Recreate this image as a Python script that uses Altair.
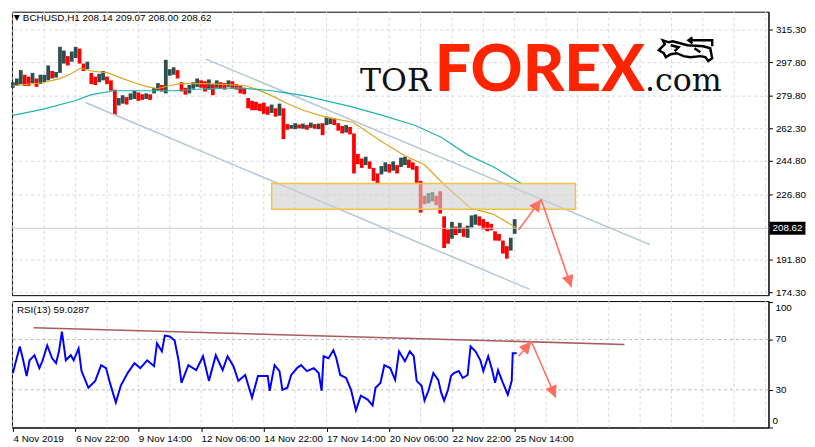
import math
import altair as alt
import pandas as pd

# ---------------- data ----------------
symbol_text = "BCHUSD,H1 208.14 209.07 208.00 208.62"
rsi_text = "RSI(13) 59.0287"
last_price = 208.62

price_ticks = [315.30, 297.80, 279.80, 262.30, 244.80, 226.80, 191.80, 174.30]
rsi_ticks = [0, 30, 70, 100]
rsi_levels = [30, 70]

time_label_hours = [0, 64, 128, 192, 256, 320, 384, 448, 512]
time_labels = ["4 Nov 2019", "6 Nov 22:00", "9 Nov 14:00", "12 Nov 06:00",
               "14 Nov 22:00", "17 Nov 14:00", "20 Nov 06:00", "22 Nov 22:00",
               "25 Nov 14:00"]

# 4-hour bars (hour index 0 = 4 Nov 06:00)
bar_high = [287, 289, 293.5, 291, 290, 292, 289, 291, 291, 296, 293, 292.5,
            306, 304, 301, 303.5, 306, 305, 297, 298, 292, 290, 291.5, 293,
            290, 288, 283, 278.5, 280, 279, 281, 282.5, 281.5, 280.5, 281, 280.5,
            284, 286.5, 285.5, 299, 294, 295, 293.5, 287, 284, 285.5, 287, 289,
            288, 287.5, 288.5, 286, 288, 287, 286.5, 288, 287.5, 286, 285, 284,
            278.5, 277, 276.5, 275.5, 276, 274, 275, 273, 275.5, 273, 264.5, 264,
            265, 264.3, 264.8, 264, 265.3, 264.5, 264.8, 265, 268.5, 268, 267.5, 265,
            263.5, 264, 263, 259.5, 248.5, 246, 247, 244.5, 241, 238, 242, 244,
            243, 244.5, 242.5, 246.5, 247, 245.5, 244, 242, 234, 226, 227.5, 228,
            226, 228.5, 215, 208, 212, 209.5, 211.5, 209, 210, 215.5, 216, 215,
            213.5, 212, 211, 207, 205.5, 202, 199, 203.5, 213.5]
bar_low = [284, 285, 286, 285, 285, 286.5, 284.5, 286, 287, 288, 289, 289.5,
           292, 297, 296, 298, 300, 297, 293, 294, 286, 285.5, 287, 288,
           286, 282.5, 269.5, 274.5, 275.5, 275, 277.5, 278, 277, 277.5, 278, 277.5,
           281, 282.5, 282, 281, 290.5, 291, 289, 282, 280.3, 281, 283.5, 284.5,
           284, 282, 283, 280, 284, 283.5, 283, 284.5, 283.5, 283, 281, 280.5,
           273, 272, 272, 271.5, 270, 269.5, 270.5, 268.5, 269, 256.5, 261.5, 262,
           261.8, 262.2, 262, 261.5, 262.5, 262, 261.8, 258.6, 264, 264.5, 264, 261,
           259.5, 260, 259, 238, 243, 241, 242.5, 240.5, 234, 232.6, 237.5, 239,
           238.5, 239.5, 238, 241.5, 242.5, 241, 240, 233, 217, 221.5, 222, 223,
           221, 216.5, 198, 200.3, 203, 205, 206, 204, 203.5, 209, 210.5, 210,
           208, 207, 207.5, 202, 201.9, 195, 192.3, 196.6, 205.6]

fast_ma_hours = [0, 30, 47, 57, 69, 80, 97, 110, 124, 137, 147, 160, 170, 197,
                 224, 237, 250, 264, 280, 297, 320, 347, 377, 400, 420, 440,
                 467, 490, 514]
fast_ma_vals = [285.1, 286.7, 288.8, 290.9, 294.6, 293.0, 292.0, 289.3, 286.7,
                284.6, 283.5, 285.1, 286.2, 286.2, 285.6, 285.1, 282.9, 279.8,
                275.6, 271.8, 268.1, 265.5, 254.9, 247.5, 242.7, 232.1, 219.4,
                216.2, 208.8]

slow_ma_hours = [0, 30, 64, 80, 104, 164, 197, 230, 264, 277, 297, 310, 344,
                 377, 410, 437, 464, 490, 519]
slow_ma_vals = [269.2, 272.4, 277.2, 280.3, 282.4, 282.4, 283.5, 284.0, 282.4,
                281.4, 279.8, 278.2, 274.0, 269.2, 263.9, 257.5, 248.0, 241.6,
                232.6]

rsi_hours = [0, 2, 7, 10, 14, 17, 22, 27, 30, 35, 40, 44, 47, 50, 54, 59, 62,
             67, 70, 77, 84, 90, 95, 99, 105, 110, 117, 124, 130, 137, 144, 147,
             152, 155, 160, 165, 169, 172, 179, 187, 194, 200, 207, 214, 219,
             225, 230, 237, 244, 250, 260, 262, 267, 272, 275, 280, 284, 290,
             294, 300, 307, 312, 315, 317, 322, 327, 330, 334, 340, 345, 350,
             355, 362, 367, 370, 375, 379, 385, 390, 394, 400, 405, 409, 412,
             417, 420, 424, 429, 434, 437, 440, 444, 447, 450, 455, 459, 464,
             467, 472, 477, 480, 485, 489, 492, 495, 500, 505, 509, 510, 514]
rsi_vals = [43.3, 49.6, 64.5, 55.1, 41, 53.5, 57.5, 47.3, 52.7, 65.3, 55.1,
            51.2, 60.6, 76.3, 53.5, 57.5, 53.5, 62.9, 44.9, 31.6, 37.1, 49.6,
            47.3, 35.5, 19.8, 33.2, 43.3, 51.2, 47.3, 53.5, 48.8, 66.9, 60.6,
            73.1, 72.4, 69.2, 53.5, 35.5, 49.6, 45.7, 56.7, 37.1, 57.5, 45.7,
            56.7, 48.8, 37.1, 41.8, 23.7, 41, 41, 29.2, 49.6, 44.9, 30, 31.6,
            41.8, 47.3, 49.6, 44.9, 47.3, 43.3, 29.2, 56.7, 55.1, 61.4, 55.1,
            41.8, 39.4, 30, 13.6, 25.3, 22.2, 17.5, 31.6, 35.5, 49.6, 47.3, 37.9,
            60.6, 52.7, 60.6, 56.7, 37.1, 33.2, 21.4, 29.2, 43.3, 37.9, 27.7,
            21.4, 30, 41, 43.3, 44.9, 39.4, 41.8, 64.5, 60.6, 53.5, 44.9, 56.7,
            45.7, 35.5, 45.7, 35.5, 26.1, 37.1, 59, 59]

# drawn objects (hour, value)
channel_upper = [(197, 299.4), (650, 199.8)]
channel_lower = [(74, 276.1), (527, 175.9)]
zone_hours = (264, 574)
zone_prices = (218.8, 232.6)
price_arrow_pts = [(516, 207.7), (539, 224.1), (570, 176.9)]
rsi_arrow_pts = [(516, 56.7), (529, 68.4), (554, 23.7)]
rsi_trend = [(21, 79.4), (624, 66.1)]

# ---------------- layout ----------------
W = 766
H1 = 287
H2 = 128
XDOM = [-1, 771]
PDOM = [172.7, 324.84]
RDOM = [0, 100.6]
FONT = "Liberation Sans"
GRID = "#d9d9d9"

xs = alt.Scale(domain=XDOM, nice=False, zero=False)
ps = alt.Scale(domain=PDOM, nice=False, zero=False)
rs = alt.Scale(domain=RDOM, nice=False, zero=False)
grid_hours = list(range(0, 771, 32))

label_expr = " : ".join(f"datum.value == {h} ? '{t}'" for h, t in zip(time_label_hours, time_labels)) + " : ''"


def vgrid():
    return alt.Chart(pd.DataFrame({"h": grid_hours})).mark_rule(
        color=GRID, strokeDash=[3, 3], strokeWidth=1).encode(x=alt.X("h:Q", scale=xs, axis=None))


# bars
n = len(bar_high)
bars = pd.DataFrame({"h": [i * 4 for i in range(n)], "hi": bar_high, "lo": bar_low})
mids = [(a + b) / 2 for a, b in zip(bar_high, bar_low)]
bars["dir"] = ["up"] + ["up" if mids[i] >= mids[i - 1] else "down" for i in range(1, n)]

candles = alt.Chart(bars).mark_rule(strokeWidth=3.8).encode(
    x=alt.X("h:Q", scale=xs, axis=None),
    y=alt.Y("lo:Q", scale=ps, axis=alt.Axis(orient="right", values=price_ticks, format=".2f",
                                            grid=True, gridDash=[3, 3], gridColor=GRID,
                                            tickSize=4, labelPadding=3, title=None)),
    y2="hi:Q",
    color=alt.Color("dir:N", scale=alt.Scale(domain=["up", "down"], range=["#2f4f4f", "#ff0000"]), legend=None),
)

price_line = alt.Chart(pd.DataFrame({"p": [last_price]})).mark_rule(color="#c8c8c8", strokeWidth=1).encode(
    y=alt.Y("p:Q", scale=ps, axis=None))

ma_df = pd.concat([
    pd.DataFrame({"h": fast_ma_hours, "v": fast_ma_vals, "ma": "fast"}),
    pd.DataFrame({"h": slow_ma_hours, "v": slow_ma_vals, "ma": "slow"}),
])
mas = alt.Chart(ma_df).mark_line(strokeWidth=1.2).encode(
    x=alt.X("h:Q", scale=xs, axis=None),
    y=alt.Y("v:Q", scale=ps, axis=None),
    stroke=alt.Stroke("ma:N", scale=alt.Scale(domain=["fast", "slow"], range=["#daa520", "#20b2aa"]), legend=None),
)

ch_df = pd.DataFrame({
    "h": [p[0] for p in channel_upper] + [p[0] for p in channel_lower],
    "v": [p[1] for p in channel_upper] + [p[1] for p in channel_lower],
    "k": ["u", "u", "l", "l"],
})
channels = alt.Chart(ch_df).mark_line(color="#b4c6d8", strokeWidth=1.5).encode(
    x=alt.X("h:Q", scale=xs, axis=None), y=alt.Y("v:Q", scale=ps, axis=None), detail="k:N")

zone = alt.Chart(pd.DataFrame({"x0": [zone_hours[0]], "x1": [zone_hours[1]],
                               "y0": [zone_prices[0]], "y1": [zone_prices[1]]})).mark_rect(
    fill="#cfcfcf", fillOpacity=0.6, stroke="#f2c24a", strokeWidth=1.5).encode(
    x=alt.X("x0:Q", scale=xs, axis=None), x2="x1:Q",
    y=alt.Y("y0:Q", scale=ps, axis=None), y2="y1:Q")

ARROW = "#ff6f61"
HEAD = "M0,0L-1,2L1,2Z"


def arrow_layers(pts, yscale, hpx, ydom):
    kx = W / (XDOM[1] - XDOM[0])
    ky = hpx / (ydom[1] - ydom[0])
    segs = []
    for (x0, y0), (x1, y1) in zip(pts[:-1], pts[1:]):
        dx = (x1 - x0) * kx
        dy = -(y1 - y0) * ky
        ang = math.degrees(math.atan2(dx, -dy)) % 360
        segs.append({"x0": x0, "y0": y0, "x1": x1, "y1": y1, "ang": ang})
    df = pd.DataFrame(segs)
    lines = alt.Chart(df).mark_rule(color=ARROW, strokeWidth=1.6).encode(
        x=alt.X("x0:Q", scale=xs, axis=None), x2="x1:Q",
        y=alt.Y("y0:Q", scale=yscale, axis=None), y2="y1:Q")
    heads = alt.Chart(df).mark_point(shape=HEAD, filled=True, size=150, color=ARROW, opacity=1).encode(
        x=alt.X("x1:Q", scale=xs, axis=None), y=alt.Y("y1:Q", scale=yscale, axis=None),
        angle=alt.Angle("ang:Q", scale=None))
    return [lines, heads]


box = alt.Chart(pd.DataFrame({"p": [last_price]})).mark_point(
    shape="M0,-1L5.6,-1L5.6,1L0,1Z", filled=True, size=169, color="black", opacity=1).encode(
    x=alt.value(W + 1), y=alt.Y("p:Q", scale=ps, axis=None))
box_txt = alt.Chart(pd.DataFrame({"p": [last_price], "t": [f"{last_price:.2f}"]})).mark_text(
    align="left", baseline="middle", font=FONT, fontSize=10, color="white").encode(
    x=alt.value(W + 4), y=alt.Y("p:Q", scale=ps, axis=None), text="t:N")

title_tri = alt.Chart(pd.DataFrame({"t": ["\u25bc"]})).mark_text(
    align="center", baseline="middle", font="DejaVu Sans", fontSize=8, color="black").encode(
    x=alt.value(5), y=alt.value(6), text="t:N")
title_txt = alt.Chart(pd.DataFrame({"t": [symbol_text]})).mark_text(
    align="left", baseline="middle", font=FONT, fontSize=10, color="black").encode(
    x=alt.value(11), y=alt.value(6), text="t:N")

logo_tor = alt.Chart(pd.DataFrame({"t": ["TOR"]})).mark_text(
    align="right", baseline="alphabetic", font="DejaVu Serif", fontSize=32, color="#111111").encode(
    x=alt.value(424), y=alt.value(80), text="t:N")
logo_forex = alt.Chart(pd.DataFrame({"t": ["FOREX"]})).mark_text(
    align="left", baseline="alphabetic", font="Lato", fontWeight=900, fontSize=65, color="#ff2400").encode(
    x=alt.value(428), y=alt.value(80), text="t:N")
logo_com = alt.Chart(pd.DataFrame({"t": [".com"]})).mark_text(
    align="left", baseline="alphabetic", font="DejaVu Serif", fontSize=32, color="#111111").encode(
    x=alt.value(641), y=alt.value(80), text="t:N")
BULL = ("M8,17L14,11L12,7L18,9L22,8L37,12L53,13L60,15L62,25L58,28L55,24L50,23L40,24"
        "L33,23L26,20L20,21L15,24L13,20Z M62,13L62,7L39,7 M42,4L38,7L42,10"
        " M20,12L28,14L24,18 M44,15L50,19")
logo_bull = alt.Chart(pd.DataFrame({"t": [1]})).mark_point(
    shape=BULL, filled=False, size=4, color="black", strokeWidth=2.5, opacity=1).encode(
    x=alt.value(647), y=alt.value(22))

price_panel = alt.layer(
    vgrid(), candles, price_line, channels, mas, zone,
    *arrow_layers(price_arrow_pts, ps, H1, PDOM),
    box, box_txt, title_tri, title_txt, logo_tor, logo_forex, logo_com, logo_bull,
).resolve_scale(color="independent", stroke="independent").resolve_axis(
    x="independent", y="independent").properties(width=W, height=H1)

# ---------------- RSI panel ----------------
rsi_df = pd.DataFrame({"h": rsi_hours, "r": rsi_vals})
rsi_line = alt.Chart(rsi_df).mark_line(color="#0000ff", strokeWidth=2).encode(
    x=alt.X("h:Q", scale=xs, axis=alt.Axis(orient="bottom", values=time_label_hours, labelExpr=label_expr,
                                           labelAlign="left", labelFlush=False, labelPadding=2, tickSize=4,
                                           grid=False, title=None, labelFont=FONT, labelFontSize=10)),
    y=alt.Y("r:Q", scale=rs, axis=alt.Axis(orient="right", values=rsi_ticks, grid=False, tickSize=4,
                                           labels=False, title=None)))
levels = alt.Chart(pd.DataFrame({"r": rsi_levels})).mark_rule(color="#b8b8b8", strokeDash=[3, 3], strokeWidth=1).encode(
    y=alt.Y("r:Q", scale=rs, axis=None))
trend = alt.Chart(pd.DataFrame({"h": [p[0] for p in rsi_trend], "r": [p[1] for p in rsi_trend]})).mark_line(
    color="#a85c5c", strokeWidth=1.6).encode(
    x=alt.X("h:Q", scale=xs, axis=None), y=alt.Y("r:Q", scale=rs, axis=None))
rsi_title = alt.Chart(pd.DataFrame({"t": [rsi_text]})).mark_text(
    align="left", baseline="middle", font=FONT, fontSize=10, color="black").encode(
    x=alt.value(5), y=alt.value(9), text="t:N")

lo_tick = min(rsi_ticks)
hi_tick = max(rsi_ticks)
mid_ticks = [v for v in rsi_ticks if lo_tick < v < hi_tick]


def rsi_labels(vals, dy):
    df = pd.DataFrame({"r": vals, "t": [str(v) for v in vals]})
    return alt.Chart(df).mark_text(
        align="left", baseline="middle", font=FONT, fontSize=10, color="black", dy=dy).encode(
        x=alt.value(W + 7), y=alt.Y("r:Q", scale=rs, axis=None), text="t:N")


# bottom label drawn with a literal text in the mark definition
zero_label = alt.Chart(pd.DataFrame({"k": [1]})).mark_text(
    text=f" {lo_tick}", align="left", baseline="middle", font=FONT, fontSize=10, color="black").encode(
    x=alt.value(W + 4), y=alt.value(H2 - 7))

rsi_panel = alt.layer(
    vgrid(), levels, trend, rsi_line, *arrow_layers(rsi_arrow_pts, rs, H2, RDOM), rsi_title,
    rsi_labels(mid_ticks, 0), rsi_labels([hi_tick], 6), zero_label,
).resolve_axis(x="independent", y="independent").properties(width=W, height=H2)

chart = alt.vconcat(price_panel, rsi_panel, spacing=2).properties(
    padding={"left": 0, "right": 0, "top": 0, "bottom": 0}, background="white"
).configure_view(stroke="black", strokeWidth=1).configure_axis(
    labelFont=FONT, labelFontSize=10, labelColor="black", tickColor="black",
    domainColor="black", domainWidth=1)

chart.save("out.html", embed_options={"renderer": "svg", "actions": False})
